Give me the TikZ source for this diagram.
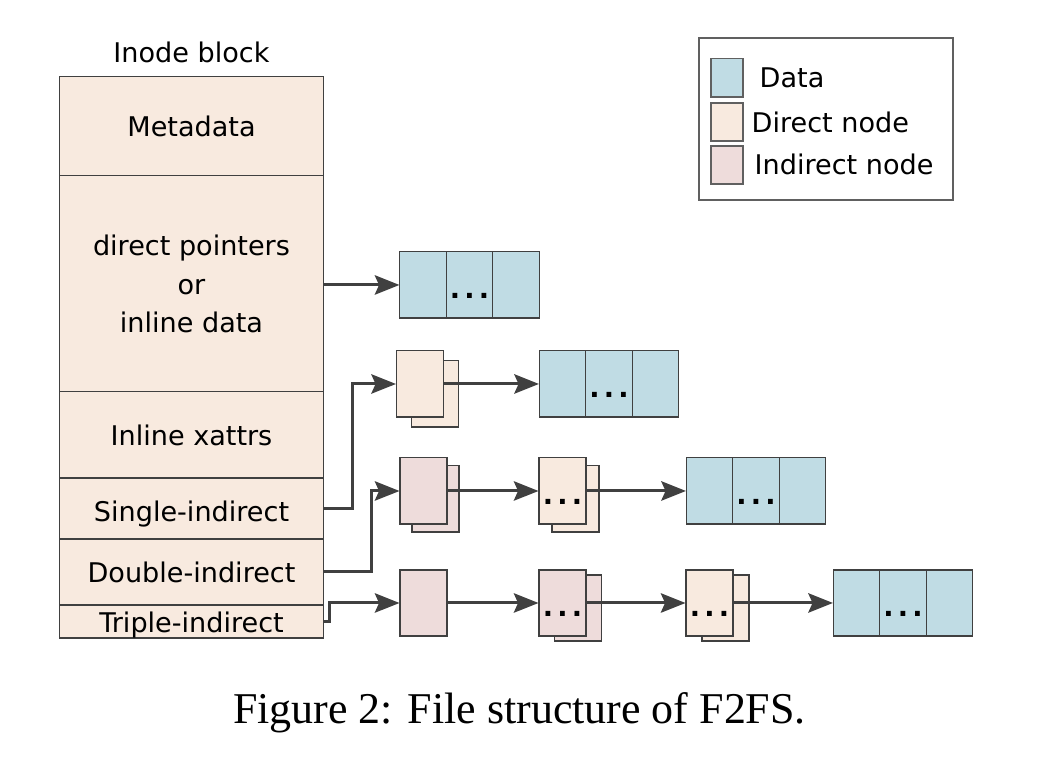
\documentclass[tikz,border=0pt]{standalone}
\usepackage{fontspec}
\setmainfont{DejaVu Sans}
\newfontfamily\capfont{Liberation Serif}
\usetikzlibrary{arrows.meta}
\definecolor{datac}{HTML}{C0DCE4}
\definecolor{dirc}{HTML}{F8EADF}
\definecolor{indc}{HTML}{EEDCDB}
\definecolor{linec}{HTML}{404040}
\definecolor{legc}{HTML}{606060}
\newcommand{\ddd}{\textbf{.\hspace{1.2pt}.\hspace{1.2pt}.}}
\begin{document}
\begin{tikzpicture}[x=0.01cm,y=-0.01cm,
  every node/.style={font=\fontsize{7.7}{10.9}\selectfont},
  iblk/.style={draw=linec,line width=0.3pt,fill=dirc,minimum width=2.63cm,inner sep=0pt,align=center},
  blk/.style={draw=linec,line width=0.3pt,inner sep=0pt,minimum width=0.47cm,minimum height=0.66cm,text height=7.5pt,text depth=0pt},
  dirnode/.style={blk,fill=dirc},
  indnode/.style={blk,fill=indc},
  datablk/.style={blk,fill=datac,minimum width=1.39cm,
    path picture={\foreach \f in {1,2}
      \draw[linec,line width=0.3pt] ([xshift=\f*0.4633cm]path picture bounding box.south west)
        -- ([xshift=\f*0.4633cm]path picture bounding box.north west);}},
  swatch/.style={draw=legc,line width=0.3pt,inner sep=0pt,minimum width=0.32cm,minimum height=0.38cm},
  arr/.style={draw=linec,line width=0.85pt,-{Stealth[length=7pt,width=5.5pt,inset=1.2pt]}}]
  \useasboundingbox (0,0) rectangle (1064,762);
  % Inode block
  \node (title) at (191.5,52) {Inode block};
  \node[iblk,minimum height=0.99cm] (meta) at (191.5,126.5) {Metadata};
  \node[iblk,minimum height=2.16cm] (dptr) at (191.5,284) {direct pointers\\or\\inline data};
  \node[iblk,minimum height=0.86cm] (xattr) at (191.5,435) {Inline xattrs};
  \node[iblk,minimum height=0.61cm,text height=7.5pt,text depth=0pt] (single) at (191.5,508.5) {Single-indirect};
  \node[iblk,minimum height=0.66cm] (double) at (191.5,572) {Double-indirect};
  \node[iblk,minimum height=0.33cm,text height=6.5pt,text depth=0pt] (triple) at (191.5,621.5) {Triple-indirect};
  % Legend
  \draw[legc,line width=0.4pt] (699,38) rectangle (953,200);
  \node[swatch,fill=datac] (kd) at (727,78) {};
  \node[swatch,fill=dirc] (ks) at (727,122) {};
  \node[swatch,fill=indc] (ki) at (727,165) {};
  \node[anchor=west,inner sep=0pt] (kdt) at (759,78) {Data};
  \node[anchor=west,inner sep=0pt] (kst) at (751,122) {Direct node};
  \node[anchor=west,inner sep=0pt] (kit) at (754,164) {Indirect node};
  % Direct pointers
  \node[datablk] (d1) at (469.5,285) {\ddd};
  % Single-indirect
  \node[dirnode] (s1back) at (435,394) {};
  \node[dirnode] (s1) at (420,384) {};
  \node[datablk] (d2) at (609,384) {\ddd};
  % Double-indirect
  \node[indnode] (i1back) at (435.5,499) {};
  \node[indnode] (i1) at (423.5,491) {};
  \node[dirnode] (s2back) at (575.5,499) {};
  \node[dirnode] (s2) at (562.5,491) {\ddd};
  \node[datablk] (d3) at (756,491) {\ddd};
  % Triple-indirect
  \node[indnode] (i2) at (423.5,603) {};
  \node[indnode] (i3back) at (578,608) {};
  \node[indnode] (i3) at (562.5,603) {\ddd};
  \node[dirnode] (s3back) at (725.5,608) {};
  \node[dirnode] (s3) at (709.5,603) {\ddd};
  \node[datablk] (d4) at (903,603) {\ddd};
  % Pointers
  \draw[arr] (dptr.east |- d1.west) -- (d1.west);
  \draw[arr] (single.east) -- ++(29,0) |- (s1.west);
  \draw[arr] (double.east) -- ++(48,0) |- (i1.west);
  \draw[arr] (triple.east) -- ++(6,0) |- (i2.west);
  \draw[arr] (s1.east) -- (d2.west);
  \draw[arr] (i1.east) -- (s2.west);
  \draw[arr] (s2.east) -- (d3.west);
  \draw[arr] (i2.east) -- (i3.west);
  \draw[arr] (i3.east) -- (s3.west);
  \draw[arr] (s3.east) -- (d4.west);
  % Caption
  \node (cap) at (519.5,713) {\capfont\fontsize{12.5}{15}\selectfont Figure 2: File structure of F2FS.};
\end{tikzpicture}
\end{document}
